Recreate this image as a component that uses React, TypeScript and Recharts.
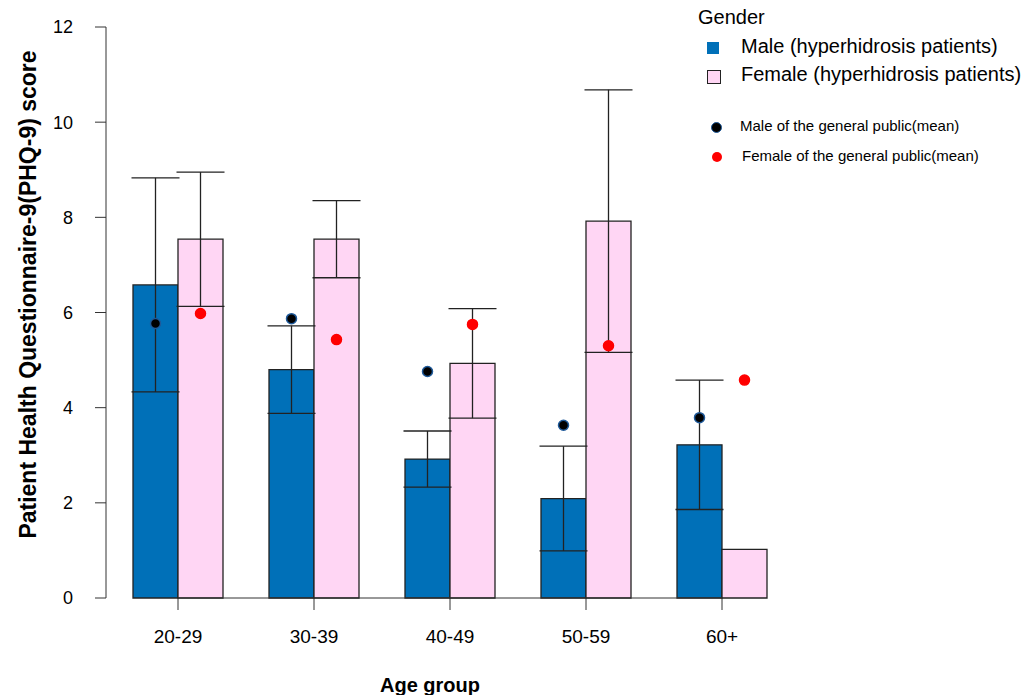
import React from 'react'
import {
  ComposedChart,
  Bar,
  XAxis,
  YAxis,
  ErrorBar,
  LabelList,
  ReferenceLine,
  Legend,
} from 'recharts'

const AGE_GROUPS = ['20-29', '30-39', '40-49', '50-59', '60+']
const MALE_PATIENTS = [6.58, 4.8, 2.92, 2.09, 3.22]
const MALE_ERR = [2.25, 0.92, 0.59, 1.1, 1.36]
const FEMALE_PATIENTS = [7.54, 7.54, 4.93, 7.92, 1.02]
const FEMALE_ERR = [1.41, 0.81, 1.15, 2.76, null]
const MALE_PUBLIC = [5.77, 5.87, 4.76, 3.63, 3.79]
const FEMALE_PUBLIC = [5.98, 5.43, 5.75, 5.3, 4.58]
const Y_TICKS = [0, 2, 4, 6, 8, 10, 12]

const FONT = "'Liberation Sans', Arial, sans-serif"
const MALE_COLOR = '#0070b8'
const FEMALE_COLOR = '#ffd6f4'
const INK = '#222'

const data = AGE_GROUPS.map((age, i) => ({
  age,
  male: MALE_PATIENTS[i],
  maleErr: MALE_ERR[i],
  female: FEMALE_PATIENTS[i],
  femaleErr: FEMALE_ERR[i],
  malePublic: MALE_PUBLIC[i],
  femalePublic: FEMALE_PUBLIC[i],
}))

// draws the general-public mean as a dot over the matching bar, using the bar's own scale
const meanDot = (values: number[], fill: string, stroke: string) => (props: any) => {
  const vb = props.viewBox ?? props
  const { x, y, width, height } = vb
  const i = props.index
  const v = values[i]
  if (x == null || !v || props.value == null) return null
  const base = y + height
  const cy = base - (Number(props.value) / v) * height
  return <circle cx={x + width / 2} cy={cy} r={5} fill={fill} stroke={stroke} strokeWidth={1.5} />
}

function GenderLegend() {
  const big = { position: 'absolute' as const, fontSize: 20, lineHeight: '22px', whiteSpace: 'nowrap' as const }
  const small = { position: 'absolute' as const, fontSize: 15, lineHeight: '18px', whiteSpace: 'nowrap' as const }
  return (
    <div style={{ position: 'relative', width: 340, height: 180, fontFamily: FONT, color: '#000' }}>
      <div style={{ ...big, left: 8, top: 6 }}>Gender</div>
      <div style={{ position: 'absolute', left: 17, top: 42, width: 12, height: 12, background: MALE_COLOR }} />
      <div style={{ ...big, left: 51, top: 35 }}>Male (hyperhidrosis patients)</div>
      <div
        style={{
          position: 'absolute',
          left: 17,
          top: 70,
          width: 12,
          height: 12,
          background: FEMALE_COLOR,
          border: `1px solid ${INK}`,
        }}
      />
      <div style={{ ...big, left: 51, top: 63 }}>Female (hyperhidrosis patients)</div>
      <div
        style={{
          position: 'absolute',
          left: 21,
          top: 122,
          width: 9,
          height: 9,
          borderRadius: '50%',
          background: '#000',
          border: '1.5px solid #1f5a9a',
        }}
      />
      <div style={{ ...small, left: 50, top: 117 }}>Male of the general public(mean)</div>
      <div
        style={{
          position: 'absolute',
          left: 22,
          top: 152,
          width: 10,
          height: 10,
          borderRadius: '50%',
          background: '#ff0000',
        }}
      />
      <div style={{ ...small, left: 52, top: 147 }}>Female of the general public(mean)</div>
    </div>
  )
}

export default function App() {
  return (
    <div style={{ position: 'absolute', left: 0, top: 0, width: 1030, height: 695, background: '#fff' }}>
      <ComposedChart
        width={1030}
        height={695}
        data={data}
        margin={{ top: 27, right: 230, bottom: 47, left: 46 }}
        barCategoryGap={23}
        barGap={0}
      >
        <XAxis
          dataKey="age"
          padding={{ left: 4, right: 10 }}
          axisLine={false}
          tickLine={{ stroke: '#333' }}
          tickSize={12}
          tickMargin={20}
          height={50}
          tick={{ fontSize: 19, fill: '#000', fontFamily: FONT }}
          label={{
            content: () => (
              <text
                x={430}
                y={692}
                textAnchor="middle"
                fontFamily={FONT}
                fontSize={20}
                fontWeight="bold"
                fill="#000"
              >
                Age group
              </text>
            ),
          }}
        />
        <YAxis
          domain={[0, 12]}
          ticks={Y_TICKS}
          interval={0}
          width={60}
          axisLine={{ stroke: '#333' }}
          tickLine={{ stroke: '#333' }}
          tickSize={11}
          tickMargin={22}
          tick={{ fontSize: 18, fill: '#000', fontFamily: FONT }}
          label={{
            content: ({ viewBox }: any) => {
              const cx = 28
              const cy = viewBox.y + viewBox.height / 2 - 18
              return (
                <text
                  x={cx}
                  y={cy}
                  transform={`rotate(-90, ${cx}, ${cy})`}
                  textAnchor="middle"
                  dominantBaseline="central"
                  fontFamily={FONT}
                  fontSize={23}
                  fontWeight="bold"
                  fill="#000"
                >
                  Patient Health Questionnaire-9(PHQ-9) score
                </text>
              )
            },
          }}
        />
        <ReferenceLine
          segment={[
            { x: AGE_GROUPS[0], y: 0 },
            { x: AGE_GROUPS[AGE_GROUPS.length - 1], y: 0 },
          ]}
          stroke="#333"
        />
        <Legend
          layout="horizontal"
          verticalAlign="middle"
          align="center"
          wrapperStyle={{ top: 0, left: 690, width: 340, height: 180 }}
          content={() => <GenderLegend />}
        />
        <Bar dataKey="male" fill={MALE_COLOR} stroke={INK} strokeWidth={1.3} isAnimationActive={false}>
          <ErrorBar dataKey="maleErr" width={24} stroke={INK} strokeWidth={1.3} direction="y" />
          <LabelList dataKey="malePublic" content={meanDot(MALE_PATIENTS, '#000', '#1f5a9a')} />
        </Bar>
        <Bar dataKey="female" fill={FEMALE_COLOR} stroke={INK} strokeWidth={1.3} isAnimationActive={false}>
          <ErrorBar dataKey="femaleErr" width={24} stroke={INK} strokeWidth={1.3} direction="y" />
          <LabelList dataKey="femalePublic" content={meanDot(FEMALE_PATIENTS, '#ff0000', '#ff0000')} />
        </Bar>
      </ComposedChart>
    </div>
  )
}
